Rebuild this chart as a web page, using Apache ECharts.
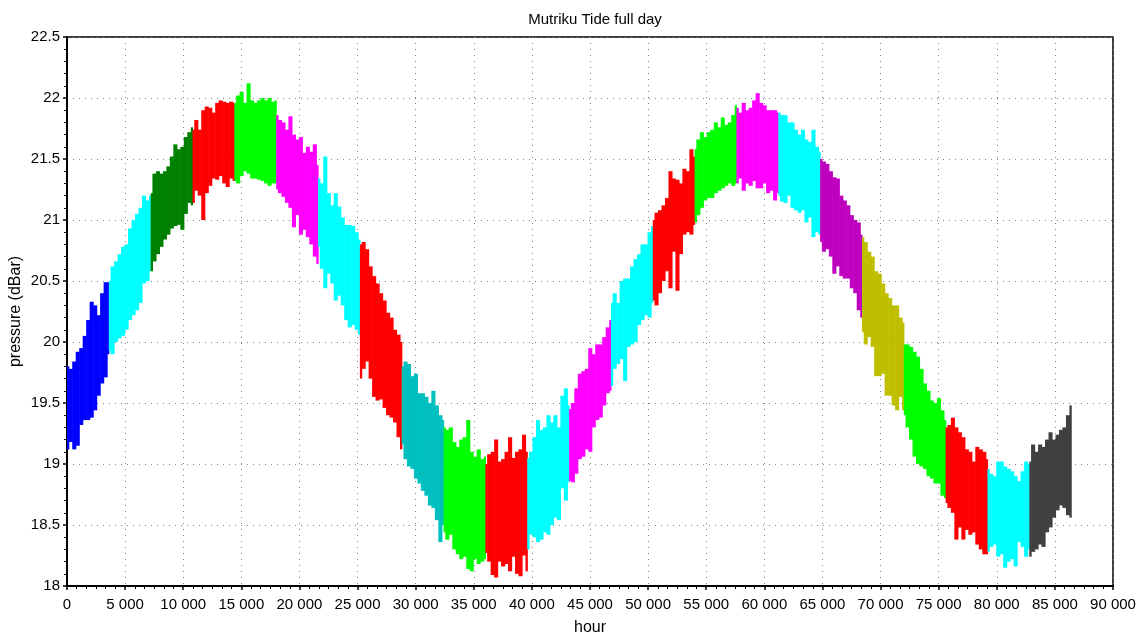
<!DOCTYPE html>
<html>
<head>
<meta charset="utf-8">
<title>Mutriku Tide full day</title>
<script src="https://cdn.jsdelivr.net/npm/echarts@6/dist/echarts.min.js"></script>
<style>
  html, body { margin: 0; padding: 0; background: #ffffff; }
  #chart { width: 1144px; height: 637px; }
</style>
</head>
<body>
<div id="chart"></div>
<script>
// Pressure record, split into 24 one-hour blocks of 3600 samples.
// Each block is summarised by its upper and lower envelope every 300 samples.
const SEGMENT_SPAN = 3600;
const SAMPLE_STEP = 300;

const segmentColors = [
  '#0000ff', '#00ffff', '#008000', '#ff0000', '#00ff00', '#ff00ff',
  '#00ffff', '#ff0000', '#00bfbf', '#00ff00', '#ff0000', '#00ffff',
  '#ff00ff', '#00ffff', '#ff0000', '#00ff00', '#ff00ff', '#00ffff',
  '#bf00bf', '#bfbf00', '#00ff00', '#ff0000', '#00ffff', '#404040'
];

const upperEnvelope = [
  [19.80, 19.78, 19.84, 19.92, 19.95, 20.05, 20.18, 20.33, 20.30, 20.22, 20.40, 20.49, 20.49],
  [20.50, 20.62, 20.66, 20.72, 20.78, 20.80, 20.93, 21.00, 21.05, 21.10, 21.20, 21.16, 21.20],
  [21.22, 21.38, 21.40, 21.38, 21.40, 21.44, 21.52, 21.62, 21.58, 21.60, 21.68, 21.72, 21.76],
  [21.74, 21.82, 21.74, 21.90, 21.93, 21.92, 21.88, 21.96, 21.98, 21.97, 21.96, 21.97, 21.96],
  [21.96, 22.02, 22.05, 21.96, 22.12, 21.98, 21.96, 21.98, 22.00, 21.98, 22.00, 21.97, 21.98],
  [21.86, 21.82, 21.80, 21.74, 21.85, 21.70, 21.66, 21.68, 21.55, 21.60, 21.56, 21.62, 21.45],
  [21.34, 21.30, 21.52, 21.22, 21.12, 21.22, 21.11, 21.02, 20.96, 20.96, 20.95, 20.90, 20.84],
  [20.80, 20.82, 20.76, 20.62, 20.54, 20.48, 20.40, 20.34, 20.24, 20.20, 20.10, 20.06, 20.00],
  [19.80, 19.84, 19.82, 19.72, 19.74, 19.58, 19.58, 19.55, 19.50, 19.60, 19.48, 19.40, 19.36],
  [19.30, 19.28, 19.30, 19.18, 19.14, 19.20, 19.22, 19.36, 19.10, 19.06, 19.12, 19.04, 19.06],
  [19.00, 19.08, 19.10, 19.20, 19.02, 19.04, 19.10, 19.22, 19.05, 19.10, 19.12, 19.24, 19.10],
  [19.05, 19.10, 19.22, 19.36, 19.28, 19.30, 19.40, 19.34, 19.40, 19.30, 19.56, 19.62, 19.48],
  [19.45, 19.50, 19.62, 19.74, 19.76, 19.78, 19.95, 19.90, 19.98, 19.98, 20.04, 20.12, 20.18],
  [20.32, 20.40, 20.32, 20.50, 20.52, 20.52, 20.62, 20.68, 20.72, 20.80, 20.80, 20.90, 20.95],
  [21.00, 21.06, 21.08, 21.12, 21.18, 21.40, 21.34, 21.33, 21.30, 21.42, 21.40, 21.58, 21.52],
  [21.58, 21.66, 21.72, 21.68, 21.72, 21.74, 21.80, 21.76, 21.84, 21.78, 21.80, 21.86, 21.94],
  [21.92, 21.88, 21.96, 21.90, 21.92, 21.98, 22.04, 21.96, 21.94, 21.90, 21.90, 21.90, 21.88],
  [21.88, 21.86, 21.86, 21.80, 21.80, 21.74, 21.70, 21.74, 21.66, 21.64, 21.74, 21.60, 21.56],
  [21.50, 21.48, 21.46, 21.40, 21.35, 21.34, 21.20, 21.16, 21.12, 21.04, 21.00, 20.98, 20.88],
  [20.86, 20.82, 20.74, 20.70, 20.58, 20.56, 20.48, 20.40, 20.36, 20.30, 20.30, 20.20, 20.16],
  [19.98, 19.98, 19.96, 19.92, 19.88, 19.78, 19.66, 19.60, 19.52, 19.50, 19.54, 19.44, 19.36],
  [19.30, 19.32, 19.38, 19.30, 19.26, 19.22, 19.12, 19.10, 19.02, 19.14, 19.12, 19.10, 19.04],
  [18.96, 18.92, 18.90, 19.02, 19.02, 18.98, 18.96, 18.94, 18.90, 18.86, 18.94, 19.02, 19.00],
  [19.02, 19.16, 19.10, 19.16, 19.14, 19.20, 19.26, 19.20, 19.24, 19.28, 19.30, 19.40, 19.48]
];

const lowerEnvelope = [
  [19.12, 19.18, 19.12, 19.15, 19.32, 19.36, 19.36, 19.38, 19.44, 19.56, 19.66, 19.71, 19.90],
  [19.93, 19.90, 20.00, 20.03, 20.05, 20.10, 20.18, 20.22, 20.26, 20.32, 20.48, 20.50, 20.58],
  [20.58, 20.66, 20.72, 20.78, 20.84, 20.88, 20.93, 20.95, 20.96, 20.92, 21.05, 21.14, 21.12],
  [21.14, 21.24, 21.20, 21.00, 21.22, 21.28, 21.34, 21.33, 21.36, 21.30, 21.27, 21.34, 21.32],
  [21.32, 21.30, 21.36, 21.40, 21.38, 21.34, 21.34, 21.33, 21.32, 21.30, 21.28, 21.30, 21.30],
  [21.25, 21.22, 21.19, 21.14, 21.10, 20.94, 21.04, 20.88, 20.92, 20.86, 20.80, 20.70, 20.64],
  [20.78, 20.60, 20.44, 20.56, 20.48, 20.34, 20.38, 20.30, 20.18, 20.12, 20.14, 20.10, 20.06],
  [19.70, 19.78, 19.84, 19.70, 19.55, 19.52, 19.53, 19.46, 19.40, 19.38, 19.34, 19.22, 19.12],
  [19.16, 19.04, 18.98, 18.96, 18.88, 18.84, 18.78, 18.74, 18.66, 18.64, 18.54, 18.36, 18.50],
  [18.44, 18.38, 18.42, 18.30, 18.26, 18.22, 18.24, 18.14, 18.12, 18.22, 18.18, 18.20, 18.22],
  [18.27, 18.20, 18.09, 18.07, 18.20, 18.16, 18.18, 18.12, 18.24, 18.10, 18.08, 18.25, 18.12],
  [18.30, 18.42, 18.40, 18.36, 18.38, 18.44, 18.42, 18.50, 18.56, 18.54, 18.80, 18.70, 18.85],
  [18.86, 18.85, 18.92, 19.04, 19.06, 19.12, 19.10, 19.30, 19.36, 19.38, 19.48, 19.58, 19.60],
  [19.64, 19.78, 19.82, 19.86, 19.68, 19.96, 19.98, 20.00, 20.14, 20.18, 20.22, 20.20, 20.32],
  [20.34, 20.30, 20.40, 20.50, 20.58, 20.44, 20.74, 20.42, 20.72, 20.88, 20.90, 20.88, 20.96],
  [20.98, 21.04, 21.10, 21.16, 21.18, 21.18, 21.22, 21.24, 21.26, 21.28, 21.30, 21.28, 21.30],
  [21.30, 21.34, 21.24, 21.30, 21.28, 21.32, 21.26, 21.26, 21.30, 21.22, 21.24, 21.16, 21.22],
  [21.20, 21.15, 21.14, 21.20, 21.10, 21.08, 21.06, 21.08, 20.98, 21.02, 20.86, 20.90, 20.88],
  [20.82, 20.74, 20.76, 20.70, 20.56, 20.62, 20.54, 20.52, 20.52, 20.44, 20.40, 20.26, 20.20],
  [20.08, 19.98, 20.04, 19.96, 19.72, 19.72, 19.74, 19.56, 19.56, 19.48, 19.44, 19.55, 19.44],
  [19.40, 19.30, 19.20, 19.06, 19.00, 18.98, 18.96, 18.90, 18.88, 18.84, 18.84, 18.74, 18.72],
  [18.68, 18.64, 18.60, 18.38, 18.48, 18.38, 18.46, 18.42, 18.44, 18.34, 18.30, 18.26, 18.26],
  [18.28, 18.32, 18.34, 18.24, 18.26, 18.15, 18.20, 18.22, 18.16, 18.36, 18.32, 18.24, 18.30],
  [18.24, 18.28, 18.30, 18.34, 18.32, 18.44, 18.48, 18.56, 18.62, 18.66, 18.64, 18.58, 18.56]
];

const xTicks = { min: 0, max: 90000, interval: 5000 };
const yTicks = { min: 18, max: 22.5, interval: 0.5 };

const FONT = '"Liberation Sans", Arial, Helvetica, sans-serif';

function formatThousands(v) {
  return String(v).replace(/\B(?=(\d{3})+(?!\d))/g, ' ');
}

// Each sample is drawn as a filled column spanning its lower and upper
// envelope value, one step wide and kept inside its own block.
function renderEnvelope(params, api) {
  const x = api.value(0);
  const segStart = api.value(3);
  const x0 = Math.max(x - SAMPLE_STEP / 2, segStart);
  const x1 = Math.min(x + SAMPLE_STEP / 2, segStart + SEGMENT_SPAN);
  const topLeft = api.coord([x0, api.value(2)]);
  const bottomRight = api.coord([x1, api.value(1)]);
  return {
    type: 'rect',
    shape: {
      x: topLeft[0],
      y: topLeft[1],
      width: bottomRight[0] - topLeft[0] + 0.6,
      height: bottomRight[1] - topLeft[1]
    },
    style: { fill: api.visual('color') }
  };
}

const series = segmentColors.map(function (color, seg) {
  const segStart = seg * SEGMENT_SPAN;
  const lo = lowerEnvelope[seg];
  const hi = upperEnvelope[seg];
  return {
    type: 'custom',
    renderItem: renderEnvelope,
    clip: true,
    silent: true,
    animation: false,
    itemStyle: { color: color },
    encode: { x: 0, y: [1, 2] },
    data: lo.map(function (v, k) {
      return [segStart + k * SAMPLE_STEP, v, hi[k], segStart];
    })
  };
});

const chart = echarts.init(document.getElementById('chart'), null, { renderer: 'canvas' });

chart.setOption({
  animation: false,
  backgroundColor: '#ffffff',
  title: {
    text: 'Mutriku Tide full day',
    left: 590,
    textAlign: 'center',
    top: 7,
    textStyle: { fontFamily: FONT, fontSize: 15, fontWeight: 'normal', color: '#000' }
  },
  grid: {
    left: 67, right: 31, top: 37, bottom: 51,
    outerBoundsMode: 'none',
    containLabel: false,
    show: true,
    borderColor: '#000',
    borderWidth: 1.5,
    backgroundColor: 'transparent'
  },
  xAxis: {
    type: 'value',
    min: xTicks.min,
    max: xTicks.max,
    interval: xTicks.interval,
    name: 'hour',
    nameLocation: 'middle',
    nameGap: 34,
    nameMoveOverlap: false,
    nameTextStyle: { fontFamily: FONT, fontSize: 16, color: '#000' },
    axisLine: { show: true, onZero: false, lineStyle: { color: '#000', width: 2 } },
    axisTick: { show: true, length: 4, lineStyle: { color: '#000', width: 1.5 } },
    minorTick: { show: true, splitNumber: 6, length: 3, lineStyle: { color: '#000', width: 1 } },
    axisLabel: {
      margin: 11,
      hideOverlap: false,
      fontFamily: FONT, fontSize: 15, color: '#000',
      formatter: function (v) { return formatThousands(v); }
    },
    splitLine: { show: true, lineStyle: { color: '#808080', width: 1, type: [1, 5] } }
  },
  yAxis: {
    type: 'value',
    min: yTicks.min,
    max: yTicks.max,
    interval: yTicks.interval,
    name: 'pressure (dBar)',
    nameLocation: 'middle',
    nameGap: 43,
    nameMoveOverlap: false,
    nameRotate: 90,
    nameTextStyle: { fontFamily: FONT, fontSize: 16, color: '#000' },
    axisLine: { show: true, onZero: false, lineStyle: { color: '#000', width: 2 } },
    axisTick: { show: true, length: 4, lineStyle: { color: '#000', width: 1.5 } },
    minorTick: { show: true, splitNumber: 5, length: 3, lineStyle: { color: '#000', width: 1 } },
    axisLabel: {
      margin: 7,
      fontFamily: FONT, fontSize: 15, color: '#000',
      formatter: function (v) { return String(+v.toFixed(1)); }
    },
    splitLine: { show: true, lineStyle: { color: '#808080', width: 1, type: [1, 5] } }
  },
  series: series
});
</script>
</body>
</html>
